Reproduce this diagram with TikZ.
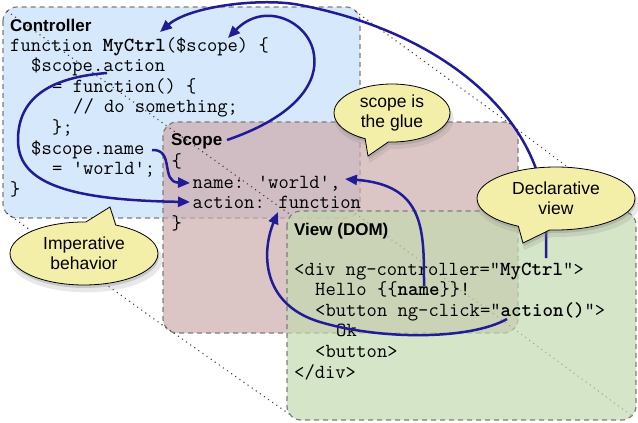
\documentclass[tikz,border=0pt]{standalone}
\usepackage{fontspec}
\setsansfont{Liberation Sans}
\usetikzlibrary{arrows.meta,shapes.callouts,shadows}
\definecolor{ctrlfill}{RGB}{214,232,251}
\definecolor{scopefill}{RGB}{205,172,172}
\definecolor{viewfill}{RGB}{195,218,176}
\definecolor{boxline}{RGB}{125,125,125}
\definecolor{arrowblue}{RGB}{33,28,150}
\definecolor{calloutfill}{RGB}{243,238,168}
\tikzset{
  panel/.style={draw=boxline, line width=1.2pt, dash pattern=on 5pt off 4pt, rounded corners=14pt},
  persp/.style={draw=black!75, line width=1.6pt, dash pattern=on 0.01pt off 5pt, line cap=round},
  flow/.style={draw=arrowblue, line width=2.5pt, -{Triangle[length=12pt,width=10pt]}},
  bubble/.style={ellipse callout, draw=black, line width=0.8pt, fill=calloutfill, inner sep=0pt,
    callout pointer arc=24,
    drop shadow={opacity=0.18, shadow xshift=2pt, shadow yshift=-6pt, shadow scale=1.03},
    drop shadow={opacity=0.3, shadow xshift=1pt, shadow yshift=-3pt},
    font=\fontsize{17.5}{20}\selectfont\sffamily, align=center},
  title/.style={anchor=base west, inner sep=0pt, font=\fontsize{17}{20}\selectfont\sffamily\bfseries},
  code/.style={anchor=base west, inner sep=0pt, font=\fontsize{20}{20.6}\selectfont\ttfamily},
}
\begin{document}
\begin{tikzpicture}[x=1pt,y=-1pt]
\useasboundingbox (0,0) rectangle (638,423);
% panels
\path[panel, fill=ctrlfill] (3,7) rectangle (360,218);
\path[panel, fill=scopefill, fill opacity=0.7] (163,122) rectangle (518,333);
% perspective lines
\coordinate (ctl) at (7.4,11.4);   \coordinate (stl) at (167.4,126.4); \coordinate (vtl) at (291.4,215.4);
\coordinate (ctr) at (355.6,11.4); \coordinate (str) at (513.6,126.4); \coordinate (vtr) at (631.6,215.4);
\coordinate (cbl) at (7.4,213.6);  \coordinate (sbl) at (167.4,328.6); \coordinate (vbl) at (291.4,415.6);
\coordinate (cbr) at (355.6,213.6);\coordinate (sbr) at (513.6,328.6); \coordinate (vbr) at (631.6,415.6);
\draw[persp] (ctl) -- (stl) -- (vtl);
\draw[persp] (ctr) -- (str) -- (vtr);
\draw[persp] (cbl) -- (sbl) -- (vbl);
\draw[persp] (cbr) -- (sbr) -- (vbr);
\path[panel, fill=viewfill, fill opacity=0.7] (287,211) rectangle (636,420);
% titles
\node[title] (ctrlT) at (10,31) {Controller};
\node[title] (scopeT) at (171,145) {Scope};
\node[title] (viewT) at (294,235) {View (DOM)};
% controller code
\node[code] (c1) at (10,51) {function \textbf{MyCtrl}(\$scope) \{};
\node[code] (c2) at (31,71.6) {\$scope.action};
\node[code] (c3) at (52,92.2) {= function() \{};
\node[code] (c4) at (73,112.8) {// do something;};
\node[code] (c5) at (52,133.4) {\};};
\node[code] (c6) at (31,154) {\$scope.name};
\node[code] (c7) at (52,174.6) {= 'world';};
\node[code] (c8) at (10,195.2) {\}};
% scope code
\node[code] (s1) at (171.5,167.4) {\{};
\node[code] (s2) at (192.5,188) {name: 'world',};
\node[code] (s3) at (192.5,208.6) {action: function};
\node[code] (s4) at (171.5,229.2) {\}};
% view code
\node[code] (v1) at (294,275) {<div ng-controller="\textbf{MyCtrl}">};
\node[code] (v2) at (315,295.6) {Hello \{\{\textbf{name}\}\}!};
\node[code] (v3) at (315,316.2) {<button ng-click="\textbf{action()}">};
\node[code] (v4) at (336,336.8) {Ok};
\node[code] (v5) at (315,357.4) {<button>};
\node[code] (v6) at (294,378) {</div>};
% arrows
\coordinate (aS) at (546,258); \coordinate (aM1) at (546,225); \coordinate (aM2) at (300,5); \coordinate (aE) at (160,32);
\draw[flow] (aS) -- (aM1) .. controls (546,118) and (442,32) .. (aM2) .. controls (262,-2.6) and (190,6) .. (aE);
\coordinate (bS) at (227,140); \coordinate (bM) at (314,55); \coordinate (bE) at (228,38);
\draw[flow] (bS) .. controls (300,115) and (318,80) .. (bM) .. controls (310,22) and (265,0) .. (bE);
\coordinate (cS) at (107,73); \coordinate (cM) at (18,140); \coordinate (cE) at (190,202);
\draw[flow] (cS) .. controls (40,78) and (18,105) .. (cM) .. controls (18,180) and (60,200) .. (cE);
\coordinate (dS) at (152,150); \coordinate (dE) at (190,183);
\draw[flow] (dS) .. controls (175,149) and (160,182) .. (dE);
\coordinate (eS) at (424,286); \coordinate (eE) at (345,179);
\draw[flow] (eS) .. controls (424,230) and (425,185) .. (eE);
\coordinate (fS) at (507,319); \coordinate (fM) at (320,322); \coordinate (fE) at (278,212);
\draw[flow] (fS) .. controls (470,340) and (380,340) .. (fM) .. controls (260,304) and (262,250) .. (fE);
% callouts
\node[bubble, minimum width=116pt, minimum height=58pt, callout absolute pointer={(368,156)}] (glue) at (392,113) {scope is\\the glue};
\node[bubble, minimum width=158pt, minimum height=63pt, callout absolute pointer={(523,243)}] (decl) at (556,198.5) {Declarative\\view};
\node[bubble, minimum width=148pt, minimum height=63pt, callout absolute pointer={(110,207)}] (imp) at (84,253.5) {Imperative\\behavior};
\end{tikzpicture}
\end{document}
